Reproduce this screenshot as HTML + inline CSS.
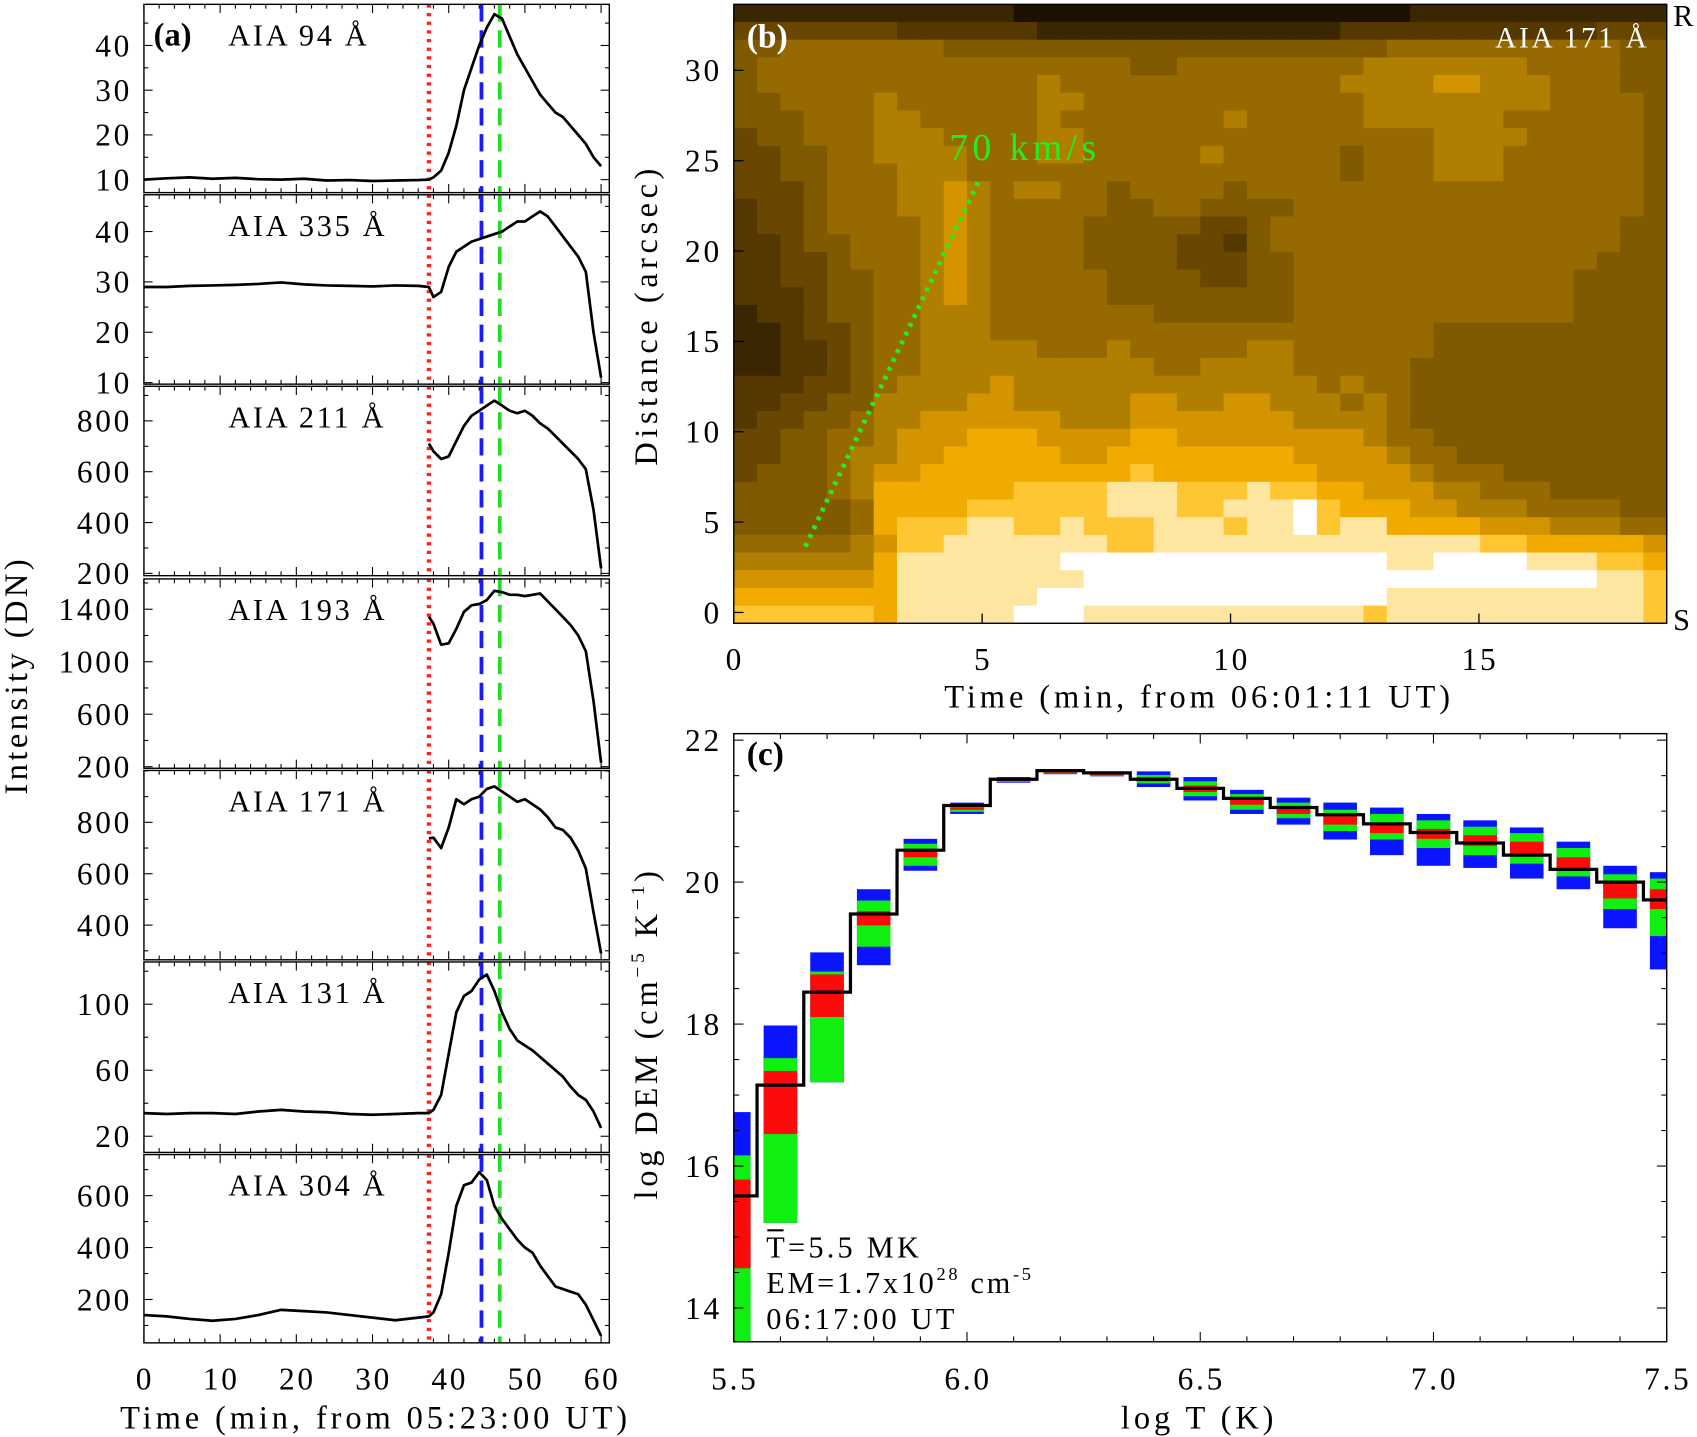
<!DOCTYPE html>
<html><head><meta charset="utf-8"><style>
html,body{margin:0;padding:0;background:#fff}
svg{display:block}
text{font-family:"Liberation Serif",serif;fill:#000}
</style></head><body>
<svg id="fig" width="1697" height="1437" viewBox="0 0 1568 1328" preserveAspectRatio="none" xmlns="http://www.w3.org/2000/svg">
<rect width="1568" height="1328" fill="#fff"/>
<g id="pb"></g>
<g id="pa"></g>
<g id="pc"></g>
</svg>
<script>
// ---------- Panel (a) data ----------
const times = [0,3,6,9,12,15,18,21,24,27,30,33,36,37.4,38,39,40,41,42,43,44,45,46,47,48,49,50,51,52,53,54,55,56,57,58,59,60];
const c94  = [10,10.3,10.5,10.2,10.4,10.1,10,10.2,9.8,9.9,9.7,9.8,9.9,10,10.5,12,16,22,30,35,40,44,47,46,42,38,35,32,29,27,25,24,22,20,18,15,13];
const c335 = [29,29,29.2,29.3,29.4,29.6,29.9,29.5,29.3,29.2,29.1,29.3,29.2,29,27,28,33,36,37,38,38.5,39,39.5,40,41,42,42,43,44,43,41,39,37,35,32,20,11];
const c211 = [null,null,null,null,null,null,null,null,null,null,null,null,null,711,680,650,660,720,780,820,840,860,880,860,840,830,840,820,790,770,740,710,680,650,610,450,220];
const c193 = [null,null,null,null,null,null,null,null,null,null,null,null,null,1342,1290,1130,1140,1250,1380,1430,1440,1470,1540,1530,1510,1510,1500,1510,1520,1460,1400,1340,1280,1200,1080,700,230];
const c171 = [null,null,null,null,null,null,null,null,null,null,null,null,null,738,740,700,780,890,870,890,900,930,940,920,900,880,890,870,850,820,780,770,740,690,620,450,290];
const c131 = [34,33.5,34,34,33.5,35,36,35,34.5,33.5,33,33.5,34,34,36,45,70,95,105,108,115,118,108,95,85,78,75,72,68,64,60,56,50,45,42,35,25];
const c304 = [140,135,125,118,125,140,160,155,150,140,130,120,130,135,150,220,380,560,640,650,690,660,560,510,470,430,400,380,330,290,250,240,230,220,180,120,60];
const markerTimes = [37.4, 44.3, 46.7];
const xTicksA = [0,10,20,30,40,50,60];
const panelNames = ["AIA 94 Å","AIA 335 Å","AIA 211 Å","AIA 193 Å","AIA 171 Å","AIA 131 Å","AIA 304 Å"];
const yTicks94=[10,20,30,40], yTicks335=[10,20,30,40], yTicks211=[200,400,600,800], yTicks193=[200,600,1000,1400], yTicks171=[400,600,800], yTicks131=[20,60,100], yTicks304=[200,400,600];

// ---------- Panel (b) data ----------
const bTimeTicks=[0,5,10,15], bDistTicks=[0,5,10,15,20,25,30];
const heatRows=[
"1111111111110000000000000000011111111111",
"3333333222222111111111111122222222222333",
"4455555554444444444444444444555555555544",
"4555555555555555544555555556666666555544",
"4555555555555655555555555566667766655544",
"4455556555555665555555555556666666655554",
"4445556655555655555556555556666665555554",
"3445556665555665555555555555556666555554",
"3344556666555665555565555545556665555554",
"3344555666555555555555555545556665555554",
"3334555667656655455554555555555555555554",
"2334555667655555445544445555555555555554",
"2334555567655554444433455555555555555544",
"2234455567655554444332455555555555555544",
"2233455567655554444333445555555555555444",
"2233445567655555444433445555555555554444",
"2223445567655555444444445555555555554444",
"1223445566655555554444445555555555554444",
"1123345566655555555555555555554444444444",
"1122345566666555655555665555554444444444",
"1122345566666666665566665555544444444444",
"2223345666676666666666666565544444444444",
"2233446666776666677667766656544444444444",
"2334456677777766677777776666544444444444",
"3344556777888777788777777776554444444444",
"3344566778888877888888887777655444444444",
"3444567788888888898888888777765554444444",
"4444568888889999aaa999a99887776655544444",
"4444458888999999aaa99aaab988877666555544",
"4444458999aa99a999aaa9aab9aa888877766655",
"555556799aaaaaaa99aaaaaaaaaaaaaa99888887",
"6666668aaaaaaabbbbbbbbbbbbbbaabbbbaaa998",
"7777778aaaaaaaabbbbbbbbbbbbbbbbbbbbbbaa9",
"8888888aaaaaabbbbbbbbbbbbbbbaaaaaaaaaaa9",
"9999998aaaaabbbaaaaaaaaaaaa9aaaaaaaaaaa9"];
const fitLine=[[1.44,3.65],[4.95,24.0]];

// ---------- Panel (c) data ----------
const logT=[5.5,5.6,5.7,5.8,5.9,6.0,6.1,6.2,6.3,6.4,6.5,6.6,6.7,6.8,6.9,7.0,7.1,7.2,7.3,7.4,7.5];
const dem=[15.58,17.14,18.45,19.55,20.45,21.08,21.45,21.57,21.54,21.45,21.32,21.18,21.05,20.95,20.82,20.70,20.55,20.38,20.18,20.0,19.75];
const blueTop=[16.76,17.98,19.01,19.90,20.61,21.12,21.48,21.59,21.56,21.56,21.48,21.30,21.19,21.12,21.05,20.96,20.87,20.77,20.57,20.23,20.14];
const greenTop=[16.15,17.52,18.74,19.74,20.54,21.09,21.46,21.57,21.54,21.51,21.42,21.24,21.12,21.02,20.96,20.87,20.78,20.69,20.48,20.11,20.05];
const redTop=[15.81,17.34,18.70,19.59,20.46,21.05,21.44,21.56,21.53,21.48,21.36,21.18,21.05,20.93,20.84,20.75,20.66,20.57,20.35,19.99,19.90];
const redBot=[14.56,16.45,18.10,19.39,20.35,21.02,21.42,21.54,21.51,21.42,21.27,21.09,20.96,20.81,20.69,20.61,20.51,20.38,20.20,19.77,19.62];
const greenBot=[13.52,15.20,17.18,19.09,20.23,20.99,21.41,21.53,21.50,21.39,21.21,21.02,20.90,20.72,20.60,20.48,20.38,20.26,20.08,19.62,19.24];
const blueBot=[13.52,15.20,17.18,18.83,20.16,20.96,21.40,21.52,21.49,21.34,21.15,20.96,20.81,20.60,20.38,20.23,20.20,20.05,19.90,19.35,18.77];
const cXTicks=[5.5,6.0,6.5,7.0,7.5], cYTicks=[14,16,18,20,22];

const NS="http://www.w3.org/2000/svg";
function mk(tag,attrs,parent,txt){const e=document.createElementNS(NS,tag);for(const k in attrs)e.setAttribute(k,attrs[k]);if(txt!==undefined)e.textContent=txt;parent.appendChild(e);return e;}
const TF=29, TLS=2.5; // tick font size / letter spacing

// ===== Panel a =====
const pa=document.getElementById('pa');
const AX0=133, AX1=563;
function xa(t){return 133+t*7.04;}
const subs=[
 {data:c94,top:4,bot:178,y0:7.1,y1:49.2,ticks:yTicks94,minor:5},
 {data:c335,top:180,bot:355,y0:9.7,y1:47.3,ticks:yTicks335,minor:5},
 {data:c211,top:357,bot:532,y0:191,y1:936,ticks:yTicks211,minor:100},
 {data:c193,top:535,bot:710,y0:188,y1:1631,ticks:yTicks193,minor:200},
 {data:c171,top:712,bot:887,y0:265,y1:1002,ticks:yTicks171,minor:100},
 {data:c131,top:889,bot:1065,y0:10.2,y1:125.6,ticks:yTicks131,minor:20},
 {data:c304,top:1067,bot:1241,y0:33,y1:758,ticks:yTicks304,minor:100}];
subs.forEach((s,i)=>{
  const g=mk('g',{},pa);
  
  
  const ya=v=>s.bot-(v-s.y0)/(s.y1-s.y0)*(s.bot-s.top);
  for(let t=0;t<=60;t+=2){const L=(t%10===0)?8:4;const x=xa(t);
    mk('line',{x1:x,x2:x,y1:s.bot,y2:s.bot-L,stroke:'#000','stroke-width':1},g);
    mk('line',{x1:x,x2:x,y1:s.top,y2:s.top+L,stroke:'#000','stroke-width':1},g);}
  for(let v=Math.ceil(s.y0/s.minor)*s.minor;v<=s.y1;v+=s.minor){const y=ya(v);const maj=s.ticks.includes(v);const L=maj?8:4;
    mk('line',{x1:AX0,x2:AX0+L,y1:y,y2:y,stroke:'#000','stroke-width':1},g);
    mk('line',{x1:AX1,x2:AX1-L,y1:y,y2:y,stroke:'#000','stroke-width':1},g);}
  s.ticks.forEach(v=>{const t=mk('text',{x:122,y:ya(v)+10,'text-anchor':'end','font-size':TF,'letter-spacing':TLS},g,String(v));
    });
  const cols=['#ff2020','#1a1aff','#22dd22'];const dash=['3 5','16 8','16 8'];const wd=[4,3.5,3.5];
  markerTimes.forEach((mt,j)=>{const l=mk('line',{x1:xa(mt),x2:xa(mt),y1:s.top,y2:s.bot,stroke:cols[j],'stroke-width':wd[j],'stroke-dasharray':dash[j]},g);
    });
  let d='';s.data.forEach((v,k)=>{if(v===null)return;d+=(d?'L':'M')+xa(times[k]).toFixed(1)+','+ya(v).toFixed(1);});
  const p=mk('path',{d:d,fill:'none',stroke:'#000','stroke-width':2.5,'stroke-linejoin':'round'},g);
  
  mk('rect',{x:AX0,y:s.top,width:AX1-AX0,height:s.bot-s.top,fill:'none',stroke:'#000','stroke-width':1.3},g);
  const lab=mk('text',{x:211,y:s.top+38,'font-size':28,'letter-spacing':'2.5'},g,panelNames[i].replace(/ /g,'  '));
  lab.setAttribute('xml:space','preserve');
});
{const t=mk('text',{x:142,y:42,'font-size':30,'font-weight':'bold'},pa,'(a)');}
xTicksA.forEach(v=>{const t=mk('text',{x:xa(v)+1,y:1284,'text-anchor':'middle','font-size':TF,'letter-spacing':TLS},pa,String(v));});
{const t=mk('text',{x:347,y:1320,'text-anchor':'middle','font-size':30,'letter-spacing':'3.6'},pa,'Time (min, from 05:23:00 UT)');}
{const t=mk('text',{x:0,y:0,'text-anchor':'middle','font-size':30,'letter-spacing':'3.2',transform:'translate(25,624) rotate(-90)'},pa,'Intensity (DN)');}

// ===== Panel b =====
const pb=document.getElementById('pb');
const BX0=678,BX1=1540,BY0=576,BY1=4;
const xb=t=>678+t*45.9, yb=d=>566-d*16.7;
const tMax=(BX1-678)/45.9, dMax=(566-BY1)/16.7, dMin=(566-BY0)/16.7;
const pal={'0':'#1c1000','1':'#3a2600','2':'#553800','3':'#6a4700','4':'#805a00','5':'#966a00','6':'#b07e00','7':'#d39400','8':'#f0aa00','9':'#ffc633','a':'#ffe6a0','b':'#ffffff'};
const nR=heatRows.length,nC=heatRows[0].length;
heatRows.forEach((row,r)=>{for(let c=0;c<nC;c++){
  const t0=c*tMax/nC,t1=(c+1)*tMax/nC;const d1=dMax-r*(dMax-dMin)/nR,d0=dMax-(r+1)*(dMax-dMin)/nR;
  const cell=mk('rect',{x:xb(t0),y:yb(d1),width:xb(t1)-xb(t0)+0.5,height:yb(d0)-yb(d1)+0.5,fill:pal[row[c]]},pb);
  }});
mk('rect',{x:BX0,y:BY1,width:BX1-BX0,height:BY0-BY1,fill:'none',stroke:'#000','stroke-width':1.3},pb);
bTimeTicks.forEach(v=>{mk('line',{x1:xb(v),x2:xb(v),y1:BY0,y2:BY0-9,stroke:'#000','stroke-width':1.2},pb);
  const t=mk('text',{x:xb(v)+1,y:619,'text-anchor':'middle','font-size':TF,'letter-spacing':TLS},pb,String(v));});
bDistTicks.forEach(v=>{mk('line',{x1:BX0,x2:BX0+9,y1:yb(v),y2:yb(v),stroke:'#000','stroke-width':1.2},pb);
  const t=mk('text',{x:667,y:yb(v)+10,'text-anchor':'end','font-size':TF,'letter-spacing':TLS},pb,String(v));});
{const l=mk('line',{x1:xb(fitLine[0][0]),y1:yb(fitLine[0][1]),x2:xb(fitLine[1][0]),y2:yb(fitLine[1][1]),stroke:'#22ee22','stroke-width':4.5,'stroke-dasharray':'3.5 5.5'},pb);}
{const t=mk('text',{x:877,y:148,'font-size':35,style:'fill:#22ee22','letter-spacing':'4'},pb,'70  km/s');t.setAttribute('xml:space','preserve');}
{const t=mk('text',{x:690,y:44,'font-size':31,'font-weight':'bold',style:'fill:#fff'},pb,'(b)');}
{const t=mk('text',{x:1524,y:44,'text-anchor':'end','font-size':27,style:'fill:#fff','letter-spacing':'2.5'},pb,'AIA  171  Å');t.setAttribute('xml:space','preserve');}
{const t=mk('text',{x:1546,y:24,'font-size':28},pb,'R');}
{const t=mk('text',{x:1546,y:582,'font-size':28},pb,'S');}
{const t=mk('text',{x:1108,y:654,'text-anchor':'middle','font-size':30,'letter-spacing':'3.6'},pb,'Time (min, from 06:01:11 UT)');}
{const t=mk('text',{x:0,y:0,'text-anchor':'middle','font-size':30,'letter-spacing':'4.2',transform:'translate(607,291) rotate(-90)'},pb,'Distance (arcsec)');}

// ===== Panel c =====
const pc=document.getElementById('pc');
const CX0=678,CX1=1540,CY0=1240,CY1=678;
const xc=v=>678+(v-5.5)*431, yc=v=>684+(22-v)*65.6;
const cl=(x)=>Math.max(CX0,Math.min(CX1,x));
const cg=mk('g',{},pc);
logT.forEach((t,i)=>{
  const xl=cl(xc(t-0.036)), xr=cl(xc(t+0.036));
  const b=mk('rect',{x:xl,y:yc(blueTop[i]),width:xr-xl,height:Math.max(1,yc(blueBot[i])-yc(blueTop[i])),fill:'#0a14ff'},cg);
  
  const g2=mk('rect',{x:xl,y:yc(greenTop[i]),width:xr-xl,height:Math.max(1,yc(greenBot[i])-yc(greenTop[i])),fill:'#10f010'},cg);
  
  const r=mk('rect',{x:xl,y:yc(redTop[i]),width:xr-xl,height:Math.max(1,yc(redBot[i])-yc(redTop[i])),fill:'#ff0a0a'},cg);
  
});
{let d='';logT.forEach((t,i)=>{const x0=cl(xc(t-0.05)),x1=cl(xc(t+0.05)),y=yc(dem[i]);d+=(d?'L':'M')+x0.toFixed(1)+','+y.toFixed(1)+'L'+x1.toFixed(1)+','+y.toFixed(1);});
 const p=mk('path',{d:d,fill:'none',stroke:'#000','stroke-width':3},pc);}
for(let v=5.5;v<=7.501;v+=0.1){const x=xc(v);const maj=Math.abs((v*2)-Math.round(v*2))<0.01;const L=maj?9:5;
  mk('line',{x1:x,x2:x,y1:CY0,y2:CY0-L,stroke:'#000','stroke-width':1},pc);mk('line',{x1:x,x2:x,y1:CY1,y2:CY1+L,stroke:'#000','stroke-width':1},pc);}
for(let v=14;v<=22;v+=0.5){const y=yc(v);const L=(v%2===0)?9:5;
  mk('line',{x1:CX0,x2:CX0+L,y1:y,y2:y,stroke:'#000','stroke-width':1},pc);mk('line',{x1:CX1,x2:CX1-L,y1:y,y2:y,stroke:'#000','stroke-width':1},pc);}
mk('rect',{x:CX0,y:CY1,width:CX1-CX0,height:CY0-CY1,fill:'none',stroke:'#000','stroke-width':1.3},pc);
cXTicks.forEach(v=>{const t=mk('text',{x:xc(v)+1,y:1284,'text-anchor':'middle','font-size':TF,'letter-spacing':TLS},pc,v.toFixed(1));});
cYTicks.forEach(v=>{const t=mk('text',{x:667,y:yc(v)+10,'text-anchor':'end','font-size':TF,'letter-spacing':TLS},pc,String(v));});
{const t=mk('text',{x:1108,y:1320,'text-anchor':'middle','font-size':30,'letter-spacing':'3.6'},pc,'log T (K)');}
{const t=mk('text',{x:0,y:0,'text-anchor':'middle','font-size':30,'letter-spacing':'3.5',transform:'translate(607,955) rotate(-90)'},pc);
 
 t.innerHTML='log DEM (cm<tspan dy="-12" font-size="18">−5</tspan><tspan dy="12"> K</tspan><tspan dy="-12" font-size="18">−1</tspan><tspan dy="12">)</tspan>';}
{const t=mk('text',{x:690,y:707,'font-size':31,'font-weight':'bold'},pc,'(c)');}
{const t=mk('text',{x:708,y:1162,'font-size':28,'letter-spacing':'3'},pc,'T=5.5 MK');
 mk('line',{x1:709,x2:724,y1:1137,y2:1137,stroke:'#000','stroke-width':2},pc);}
{const t=mk('text',{x:708,y:1195,'font-size':28,'letter-spacing':'2.5'},pc);
 t.innerHTML='EM=1.7x10<tspan dy="-12" font-size="17">28</tspan><tspan dy="12"> cm</tspan><tspan dy="-12" font-size="17">-5</tspan>';}
{const t=mk('text',{x:708,y:1228,'font-size':28,'letter-spacing':'3'},pc,'06:17:00 UT');}
</script>
</body></html>
